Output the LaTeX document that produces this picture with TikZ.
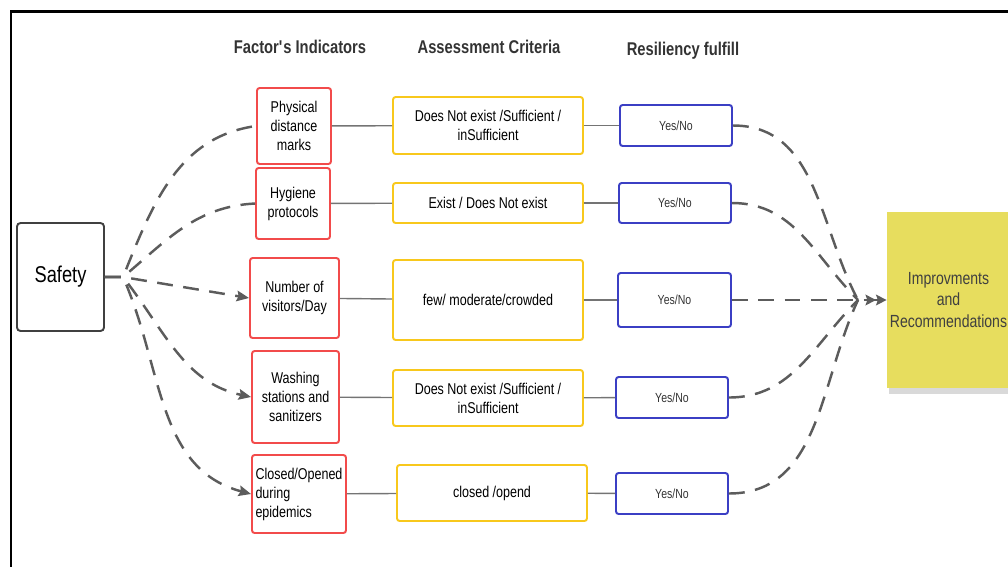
\documentclass[tikz,border=0pt]{standalone}
\usepackage{fontspec}
\setmainfont[FakeStretch=0.8]{Liberation Sans}
\usetikzlibrary{arrows.meta,shadows}
\definecolor{boxred}{HTML}{F24B4B}
\definecolor{boxyellow}{HTML}{F8C81C}
\definecolor{boxblue}{HTML}{3B3FC4}
\definecolor{sticky}{HTML}{E7DD5E}
\definecolor{linegray}{HTML}{5C5C5C}
\tikzset{
  safetybox/.style={draw=black!75, line width=1.1pt, rounded corners=2pt,
    inner sep=0pt, font=\fontsize{13}{15}\selectfont},
  factor/.style={draw=boxred, line width=1.1pt, rounded corners=1.5pt,
    align=center, inner sep=0pt, font=\fontsize{8.9}{10.8}\selectfont},
  criteria/.style={draw=boxyellow, line width=1.1pt, rounded corners=1.5pt,
    align=center, inner sep=0pt, minimum width=3.8cm,
    font=\fontsize{8.9}{10.8}\selectfont},
  fulfill/.style={draw=boxblue, line width=1.1pt, rounded corners=1.5pt,
    inner sep=0pt, minimum width=2.24cm, text=black!80,
    font=\fontsize{7.5}{9}\selectfont},
  header/.style={text=black!80, font=\bfseries\fontsize{10.5}{12}\selectfont},
  link/.style={draw=linegray!85, line width=0.8pt},
  flow/.style={draw=linegray, line width=1.4pt, dash pattern=on 9pt off 6pt},
  tip/.style={-{Stealth[length=7pt,width=6pt,inset=1pt]}}
}
\begin{document}
\begin{tikzpicture}[x=0.02cm, y=-0.02cm]
  \useasboundingbox (0,0) rectangle (1008,566);
  \clip (0,0) rectangle (1008,566);
  % frame
  \draw[line width=1.7pt] (11,580) -- (11,11) -- (1020,11);

  % column titles
  \node[header] (H1) at (300,47) {Factor\textquotesingle s Indicators};
  \node[header] (H2) at (489,47) {Assessment Criteria};
  \node[header] (H3) at (683,51) {Resiliency fulfill};

  \node[safetybox, minimum width=1.74cm, minimum height=2.16cm] (S) at (60.5,277) {Safety};
  \coordinate (H) at (123,277);

  % factors
  \node[factor, minimum width=1.48cm, minimum height=1.52cm] (F1) at (294,126) {Physical\\distance\\marks};
  \node[factor, minimum width=1.48cm, minimum height=1.42cm] (F2) at (293,203.5) {Hygiene\\protocols};
  \node[factor, minimum width=1.78cm, minimum height=1.6cm] (F3) at (294.5,298) {Number of\\visitors/Day};
  \node[factor, minimum width=1.74cm, minimum height=1.84cm] (F4) at (295.5,397) {Washing\\stations and\\sanitizers};
  \node[factor, minimum width=1.88cm, minimum height=1.56cm, align=left] (F5) at (299,494) {Closed/Opened\\during\\epidemics};

  % criteria
  \node[criteria, minimum height=1.14cm] (A1) at (488,125.5) {Does Not exist /Sufficient /\\inSufficient};
  \node[criteria, minimum height=0.8cm] (A2) at (488,203) {Exist / Does Not exist};
  \node[criteria, minimum height=1.6cm] (A3) at (488,300) {few/ moderate/crowded};
  \node[criteria, minimum height=1.12cm] (A4) at (488,398) {Does Not exist /Sufficient /\\inSufficient};
  \node[criteria, minimum height=1.12cm] (A5) at (492,493) {closed /opend};

  % resiliency
  \node[fulfill, minimum height=0.82cm] (R1) at (676,125.5) {Yes/No};
  \node[fulfill, minimum height=0.8cm] (R2) at (675,203) {Yes/No};
  \node[fulfill, minimum height=1.08cm, minimum width=2.26cm] (R3) at (674.5,300) {Yes/No};
  \node[fulfill, minimum height=0.82cm] (R4) at (672,397.5) {Yes/No};
  \node[fulfill, minimum height=0.82cm] (R5) at (672,493.5) {Yes/No};

  \node[fill=sticky, drop shadow={shadow xshift=0.4mm, shadow yshift=-1.3mm, opacity=0.3},
    minimum width=2.46cm, minimum height=3.52cm, inner sep=0pt, align=center,
    text=black!75, font=\fontsize{10}{12.5}\selectfont] (I) at (948.5,300)
    {Improvments\\and\\Recommendations};
  \coordinate (T) at (858,300);

  % safety to factors
  \draw[flow]      (S.east) -- (H) to[out=68,in=188] (F1.west);
  \draw[flow]      (S.east) -- (H) to[out=40,in=183] (F2.west);
  \draw[flow, tip] (S.east) -- (H) -- (F3.west);
  \draw[flow, tip] (S.east) -- (H) to[out=-52,in=168] (F4.west);
  \draw[flow, tip] (S.east) -- (H) to[out=-66,in=165] (F5.west);

  % rows
  \draw[link] (F1) -- (A1);  \draw[link] (A1) -- (R1);
  \draw[link] (F2) -- (A2);  \draw[link] (A2) -- (R2);
  \draw[link] (F3) -- (A3);  \draw[link] (A3) -- (R3);
  \draw[link] (F4) -- (A4);  \draw[link] (A4) -- (R4);
  \draw[link] (F5) -- (A5);  \draw[link] (A5) -- (R5);

  % resiliency to improvements
  \draw[flow] (R1.east) to[out=0,in=118] (T);
  \draw[flow] (R2.east) to[out=0,in=135] (T);
  \draw[flow, -{Stealth[length=6pt,width=6pt,inset=1pt]Stealth[length=6pt,width=6pt,inset=1pt]}] (R3.east) -- (I.west);
  \draw[flow] (R4.east) to[out=0,in=-135] (T);
  \draw[flow] (R5.east) to[out=0,in=-115] (T);
\end{tikzpicture}
\end{document}
